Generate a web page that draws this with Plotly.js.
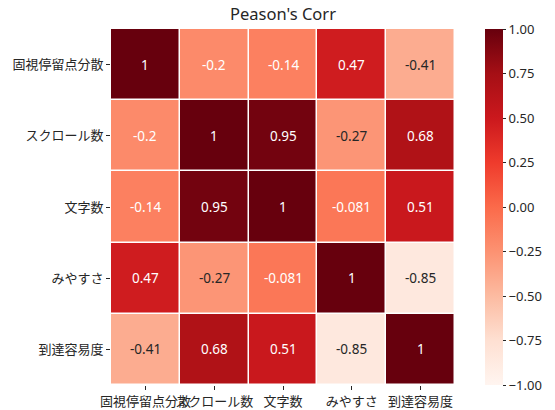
<!DOCTYPE html>
<html>
<head>
<meta charset="utf-8">
<script src="https://cdn.plot.ly/plotly-3.0.1.min.js"></script>
<style>html,body{margin:0;padding:0;background:#fff;}#chart{width:555px;height:410px;}</style>
</head>
<body>
<div id="chart"></div>
<script>
// Correlation matrix labels and values (rounded as displayed)
const labels = ['固視停留点分散', 'スクロール数', '文字数', 'みやすさ', '到達容易度'];
const row0 = [1, -0.2, -0.14, 0.47, -0.41];
const row1 = [-0.2, 1, 0.95, -0.27, 0.68];
const row2 = [-0.14, 0.95, 1, -0.081, 0.51];
const row3 = [0.47, -0.27, -0.081, 1, -0.85];
const row4 = [-0.41, 0.68, 0.51, -0.85, 1];
const colorbarTicks = [-1, -0.75, -0.5, -0.25, 0, 0.25, 0.5, 0.75, 1];

const z = [row0, row1, row2, row3, row4];

const latinFont = 'Noto Sans, DejaVu Sans, sans-serif';
const cjkFont = 'Noto Sans CJK JP, Noto Sans, sans-serif';
const ink = '#262626';

// matplotlib "Reds" palette, evenly spaced
const reds = ['#fff5f0', '#fee0d2', '#fcbba1', '#fc9272', '#fb6a4a', '#ef3b2c', '#cb181d', '#a50f15', '#67000d'];
const colorscale = reds.map((c, i) => [i / (reds.length - 1), c]);

function hexToRgb(h) {
  return [1, 3, 5].map(k => parseInt(h.slice(k, k + 2), 16) / 255);
}
function colorAt(v) {
  const t = Math.max(0, Math.min(1, (v + 1) / 2)) * (reds.length - 1);
  const i = Math.min(Math.floor(t), reds.length - 2);
  const f = t - i;
  const a = hexToRgb(reds[i]), b = hexToRgb(reds[i + 1]);
  return a.map((x, k) => x + (b[k] - x) * f);
}
function luminance(rgb) {
  const lin = rgb.map(c => c <= 0.03928 ? c / 12.92 : Math.pow((c + 0.055) / 1.055, 2.4));
  return 0.2126 * lin[0] + 0.7152 * lin[1] + 0.0722 * lin[2];
}

// one value label per cell, dark text on light cells and white on dark ones
const annotations = [];
z.forEach((row, r) => {
  row.forEach((v, c) => {
    annotations.push({
      x: labels[c], y: labels[r], xref: 'x', yref: 'y',
      text: String(v), showarrow: false,
      font: {size: 13.5, family: latinFont,
             color: luminance(colorAt(v)) > 0.408 ? ink : '#ffffff'}
    });
  });
});

const fmt = v => (v < 0 ? '\u2212' : '') + Math.abs(v).toFixed(2);

const trace = {
  type: 'heatmap',
  x: labels, y: labels, z: z,
  zmin: -1, zmax: 1,
  colorscale: colorscale,
  xgap: 1.5, ygap: 1.5,
  hoverinfo: 'skip',
  colorbar: {
    x: 1.088, xanchor: 'left', xpad: 0, ypad: 0,
    y: 0.5, yanchor: 'middle', len: 1, lenmode: 'fraction',
    thickness: 17.5, outlinewidth: 0,
    ticks: 'outside', ticklen: 3.5, tickwidth: 1, tickcolor: ink,
    tickvals: colorbarTicks, ticktext: colorbarTicks.map(fmt),
    tickfont: {size: 13, color: ink, family: latinFont}
  }
};

const layout = {
  width: 555, height: 410,
  margin: {l: 111, r: 89, t: 29, b: 25, pad: 0},
  paper_bgcolor: '#ffffff', plot_bgcolor: '#ffffff',
  title: {text: "Peason's Corr", x: 0.5, xref: 'paper', xanchor: 'center',
          y: 0.966, yref: 'container', yanchor: 'middle',
          font: {size: 16.5, color: ink, family: latinFont}},
  xaxis: {type: 'category', tickangle: 0, ticks: 'outside', ticklen: 4, tickcolor: ink,
          showgrid: false, zeroline: false, showline: false,
          tickfont: {size: 13, color: ink, family: cjkFont}},
  yaxis: {type: 'category', autorange: 'reversed', ticks: 'outside', ticklen: 4, tickcolor: ink,
          showgrid: false, zeroline: false, showline: false,
          tickfont: {size: 13, color: ink, family: cjkFont}},
  annotations: annotations
};

Plotly.newPlot('chart', [trace], layout, {displayModeBar: false, staticPlot: true});
</script>
</body>
</html>
